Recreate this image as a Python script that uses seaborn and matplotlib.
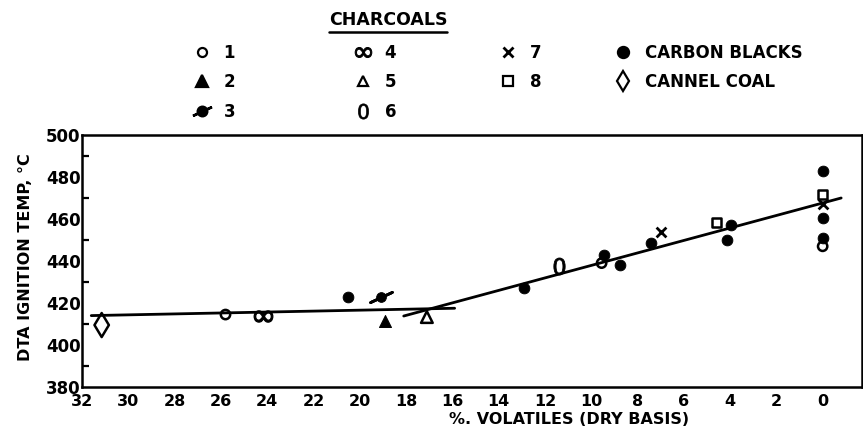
import matplotlib
matplotlib.use('Agg')
import matplotlib.pyplot as plt
from matplotlib.lines import Line2D
from matplotlib.legend_handler import HandlerTuple
from matplotlib.ticker import MultipleLocator
import seaborn as sns

# charcoals 1..8, carbon blacks, cannel coal: % volatiles (dry basis) vs DTA ignition temp
ch1_x = [25.8, 9.55, 0.0]
ch1_y = [414.5, 439, 447]
ch2_x = [18.9]
ch2_y = [411.5]
ch3_x = [19.1]
ch3_y = [423]
ch4_x = [24.2]
ch4_y = [414]
ch5_x = [17.1]
ch5_y = [413.3]
ch6_x = [11.4]
ch6_y = [437.5]
ch7_x = [7.0, 0.0]
ch7_y = [454, 467]
ch8_x = [4.6, 0.0]
ch8_y = [458.5, 471.5]
cb_x = [20.5, 12.9, 9.45, 8.75, 7.4, 3.95, 4.15, 0.0, 0.0, 0.0]
cb_y = [423, 427, 443, 438, 448.5, 457, 450, 483, 460.5, 451]
cc_x = [31.15]
cc_y = [409.5]

# the two drawn lines
flat_x = [31.6, 15.9]
flat_y = [414, 417.5]
slope_x = [18.1, -0.8]
slope_y = [413.8, 470]

x_ticks = list(range(32, -1, -2))
y_ticks = [380, 400, 420, 440, 460, 480, 500]

BOLD = dict(fontweight='bold', color='black')
K = 'black'

sns.set_style('white')
plt.rcParams['font.family'] = ['DejaVu Sans']
plt.rcParams['text.color'] = K

fig = plt.figure(figsize=(8.63, 4.29), dpi=100)
ax = fig.add_axes([82 / 863, 42 / 429, 780 / 863, 252 / 429])

# lines
sns.lineplot(x=flat_x, y=flat_y, color=K, lw=2, ax=ax)
sns.lineplot(x=slope_x, y=slope_y, color=K, lw=2, ax=ax)

# points
sns.scatterplot(x=ch1_x, y=ch1_y, marker='o', s=45, color=K, facecolor='none', edgecolor=K, linewidth=1.8, ax=ax, zorder=3)
sns.scatterplot(x=ch2_x, y=ch2_y, marker='^', s=75, color=K, edgecolor=K, ax=ax, zorder=3)
sns.scatterplot(x=ch3_x, y=ch3_y, marker='o', s=50, color=K, edgecolor=K, ax=ax, zorder=3)
sns.scatterplot(x=ch3_x, y=ch3_y, marker=(2, 2, -65), s=300, color=K, linewidth=2, ax=ax, zorder=3)
sns.scatterplot(x=ch4_x, y=ch4_y, marker='$\\infty$', s=180, color=K, edgecolor=K, linewidth=0.9, ax=ax, zorder=3)
sns.scatterplot(x=ch5_x, y=ch5_y, marker='^', s=70, color=K, facecolor='none', edgecolor=K, linewidth=1.8, ax=ax, zorder=3)
sns.scatterplot(x=ch6_x, y=ch6_y, marker='$\\mathit{0}$', s=150, color=K, edgecolor=K, linewidth=0.6, ax=ax, zorder=3)
sns.scatterplot(x=ch7_x, y=ch7_y, marker='x', s=50, color=K, linewidth=2, ax=ax, zorder=3)
sns.scatterplot(x=ch8_x, y=ch8_y, marker='s', s=40, color=K, facecolor='none', edgecolor=K, linewidth=1.8, ax=ax, zorder=3)
sns.scatterplot(x=cb_x, y=cb_y, marker='o', s=60, color=K, edgecolor=K, ax=ax, zorder=3)
sns.scatterplot(x=cc_x, y=cc_y, marker='d', s=150, color=K, facecolor='none', edgecolor=K, linewidth=1.8, ax=ax, zorder=3)

ax.set_xlim(32, -1.7)
ax.set_ylim(380, 500)
ax.set_xticks(x_ticks)
ax.set_yticks(y_ticks)
ax.yaxis.set_minor_locator(MultipleLocator(10))
ax.tick_params(axis='x', direction='in', length=7, width=1.6, pad=5, labelsize=11.5, color=K, labelcolor=K)
ax.tick_params(axis='y', which='major', direction='in', length=9, width=1.6, pad=1, labelsize=12, color=K, labelcolor=K)
ax.tick_params(axis='y', which='minor', direction='in', length=5, width=1.6, left=True, color=K)
for lab in ax.get_xticklabels() + ax.get_yticklabels():
    lab.set_fontweight('bold')
for sp in ax.spines.values():
    sp.set_linewidth(1.8)
    sp.set_color(K)

ax.set_xlabel('%. VOLATILES (DRY BASIS)', fontsize=11.5, **BOLD)
ax.xaxis.set_label_coords(0.624, -0.099)
ax.set_ylabel('DTA IGNITION TEMP, °C', fontsize=11.5, **BOLD)
ax.yaxis.set_label_coords(-0.063, 0.516)


# legend block above the plot
def mk(marker, filled=True, ms=7, mew=1.6):
    return Line2D([], [], ls='none', marker=marker, color=K, markersize=ms,
                  markerfacecolor=K if filled else 'none', markeredgecolor=K, markeredgewidth=mew)


slash = (mk('o', ms=7), mk((2, 2, -65), ms=15, mew=1.8))
columns = [
    ([mk('o', False, 6.5), mk('^', ms=8), slash], ['1', '2', '3'], 202),
    ([mk('$\\infty$', ms=12, mew=0.7), mk('^', False, 7), mk('$\\mathit{0}$', ms=11, mew=0.5)], ['4', '5', '6'], 363),
    ([mk('x', ms=7, mew=2), mk('s', False, 6.5)], ['7', '8'], 508),
    ([mk('o', ms=8), mk('d', False, 10)], ['CARBON BLACKS', 'CANNEL COAL'], 623),
]
fs_px = 12 * 100 / 72
for handles, labels, cx in columns:
    x0 = (cx - fs_px * 0.5) / 863
    leg = fig.legend(handles, labels, loc='upper left', bbox_to_anchor=(x0, 1 - 44 / 429),
                     frameon=False, borderpad=0, borderaxespad=0, handlelength=1.0,
                     handletextpad=0.8, labelspacing=0.68, labelcolor=K,
                     handler_map={tuple: HandlerTuple(ndivide=1, pad=0)},
                     prop={'weight': 'bold', 'size': 12})

title = fig.text(388 / 863, 1 - 20 / 429, 'CHARCOALS', ha='center', va='center', fontsize=12.5, **BOLD)
fig.canvas.draw()
bb = title.get_window_extent().transformed(fig.transFigure.inverted())
fig.add_artist(Line2D([bb.x0, bb.x1], [bb.y0 - 0.008, bb.y0 - 0.008], transform=fig.transFigure, color=K, lw=1.8))

fig.savefig('out.png', dpi=100)
